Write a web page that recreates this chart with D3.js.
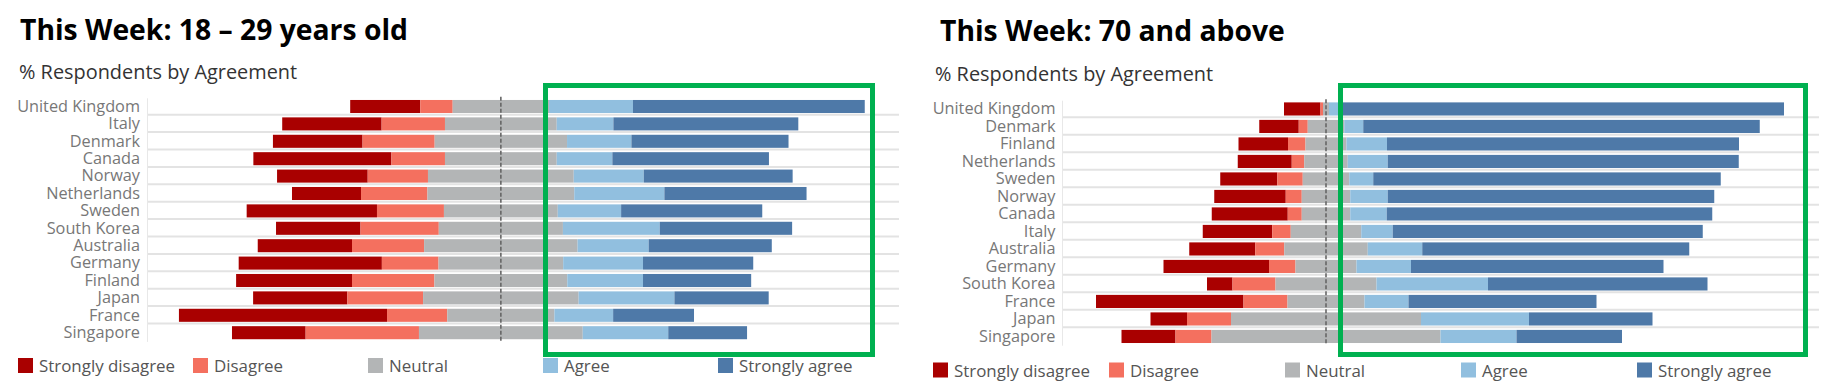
<!DOCTYPE html>
<html>
<head>
<meta charset="utf-8">
<script src="https://cdn.jsdelivr.net/npm/d3@7"></script>
<style>
    body { margin: 0; background: #fff; }
</style>
</head>
<body>
<div id="chart"></div>
<script>
var categories = ["Strongly disagree", "Disagree", "Neutral", "Agree", "Strongly agree"];
var colors = ["#a90000", "#f4705f", "#b3b5b6", "#91bfdf", "#4e79a8"];

// 18 - 29 years old (% of respondents)
var youngCountries = ["United Kingdom", "Italy", "Denmark", "Canada", "Norway", "Netherlands", "Sweden",
    "South Korea", "Australia", "Germany", "Finland", "Japan", "France", "Singapore"];
var youngStronglyDisagree = [13.6, 19.3, 17.4, 26.8, 17.6, 13.4, 25.3, 16.4, 18.3, 27.8, 22.5, 18.3, 40.4, 14.3];
var youngDisagree = [6.3, 12.3, 14.0, 10.4, 11.7, 12.9, 13.0, 15.2, 14.0, 11.0, 16.0, 14.7, 11.7, 22.0];
var youngNeutral = [18.7, 21.7, 25.7, 21.7, 28.3, 28.5, 22.1, 24.1, 29.8, 24.2, 25.8, 30.2, 20.8, 31.8];
var youngAgree = [16.3, 11.0, 12.5, 10.8, 13.6, 17.5, 12.3, 18.8, 13.8, 15.5, 14.7, 18.6, 11.4, 16.6];
var youngStronglyAgree = [45.0, 35.9, 30.5, 30.4, 28.9, 27.6, 27.4, 25.7, 23.9, 21.4, 21.0, 18.3, 15.7, 15.3];

// 70 and above (% of respondents)
var oldCountries = ["United Kingdom", "Denmark", "Finland", "Netherlands", "Sweden", "Norway", "Canada",
    "Italy", "Australia", "Germany", "South Korea", "France", "Japan", "Singapore"];
var oldStronglyDisagree = [7.3, 7.9, 9.9, 10.8, 11.4, 14.3, 15.2, 13.9, 13.2, 21.1, 5.1, 29.5, 7.3, 10.8];
var oldDisagree = [0.5, 1.8, 3.5, 2.5, 5.1, 3.2, 2.8, 3.7, 5.8, 5.3, 8.6, 8.8, 8.8, 7.2];
var oldNeutral = [1.2, 7.3, 8.2, 8.7, 9.3, 9.7, 9.7, 14.1, 16.7, 12.2, 20.2, 15.4, 38.0, 45.8];
var oldAgree = [2.3, 3.8, 8.1, 8.0, 4.8, 7.5, 7.3, 6.3, 10.9, 10.9, 22.3, 8.8, 21.6, 15.2];
var oldStronglyAgree = [88.7, 79.3, 70.4, 70.2, 69.5, 65.3, 65.1, 62.0, 53.4, 50.5, 43.9, 37.6, 24.7, 21.1];

var width = 1824,
    height = 390,
    boxColor = "#00b050",
    gridColor = "#e3e3e3";

var svg = d3.select("#chart")
    .append("svg")
    .attr("width", width)
    .attr("height", height)
    .style("font-family", "'Open Sans', sans-serif");

function drawPanel(p) {
    svg.append("text")
        .attr("x", p.titleX)
        .attr("y", p.titleY)
        .text(p.title)
        .style("font-weight", "bold")
        .style("font-size", "28.3px")
        .style("fill", "#000");

    svg.append("text")
        .attr("x", p.subX)
        .attr("y", p.subY)
        .text("% Respondents by Agreement")
        .style("font-size", "19.9px")
        .style("fill", "#333");

    var y = d3.scaleBand()
        .domain(p.countries)
        .range([p.top, p.top + p.countries.length * p.step])
        .paddingInner(0.25)
        .paddingOuter(0.125);

    var x = d3.scaleLinear()
        .domain(p.domain)
        .range([p.left, p.right]);

    // row separators
    svg.append("g")
        .selectAll("line")
        .data(p.countries.slice(0, -1))
        .join("line")
        .attr("x1", p.left)
        .attr("x2", p.gridEnd)
        .attr("y1", d => y(d) + y.bandwidth() + (y.step() - y.bandwidth()) / 2 - 0.5)
        .attr("y2", d => y(d) + y.bandwidth() + (y.step() - y.bandwidth()) / 2 - 0.5)
        .style("stroke", gridColor)
        .style("stroke-width", "2px");

    // diverging stacks, neutral centred on zero
    var segs = [];
    p.countries.forEach(function (c, i) {
        var vals = p.series.map(s => s[i]);
        var acc = -(vals[0] + vals[1] + vals[2] / 2);
        vals.forEach(function (v, k) {
            segs.push({ country: c, cat: k, x0: acc, x1: acc + v });
            acc += v;
        });
    });

    svg.append("g")
        .selectAll("rect")
        .data(segs)
        .join("rect")
        .attr("x", d => x(d.x0))
        .attr("y", d => y(d.country))
        .attr("width", d => x(d.x1) - x(d.x0))
        .attr("height", y.bandwidth())
        .style("fill", d => colors[d.cat]);

    svg.append("line")
        .attr("x1", x(0))
        .attr("x2", x(0))
        .attr("y1", p.top - 1)
        .attr("y2", p.top + p.countries.length * p.step)
        .style("stroke", "#666")
        .style("stroke-width", "1.6px")
        .style("stroke-dasharray", "4,2");

    var axis = d3.axisLeft(y)
        .tickSize(0)
        .tickPadding(p.labelPad);

    var gAxis = svg.append("g")
        .attr("transform", "translate(" + p.left + ",0)")
        .call(axis);

    gAxis.select(".domain")
        .style("stroke", "#e8e8e8")
        .style("stroke-width", "1px");

    gAxis.selectAll(".tick text")
        .style("font-family", "'Open Sans', sans-serif")
        .style("font-size", "16.3px")
        .style("fill", "#777");

    svg.append("rect")
        .attr("x", p.box[0])
        .attr("y", p.box[1])
        .attr("width", p.box[2] - p.box[0])
        .attr("height", p.box[3] - p.box[1])
        .style("fill", "none")
        .style("stroke", boxColor)
        .style("stroke-width", "5px");

    var legend = svg.append("g")
        .selectAll("g")
        .data(categories)
        .join("g")
        .attr("transform", (d, i) => "translate(" + (p.legendX + i * p.legendGap) + "," + p.legendY + ")");

    legend.append("rect")
        .attr("width", 15)
        .attr("height", 15)
        .style("fill", (d, i) => colors[i]);

    legend.append("text")
        .attr("x", 21)
        .attr("y", 14)
        .text(d => d)
        .style("font-size", "16.9px")
        .style("fill", "#555");
}

drawPanel({
    title: "This Week: 18 \u2013 29 years old",
    titleX: 20, titleY: 40,
    subX: 19, subY: 79,
    countries: youngCountries,
    series: [youngStronglyDisagree, youngDisagree, youngNeutral, youngAgree, youngStronglyAgree],
    top: 97.8, step: 17.4,
    left: 147, right: 899, gridEnd: 899,
    domain: [-68.7, 77.3],
    labelPad: 7,
    box: [545.5, 85.5, 872.5, 354.5],
    legendX: 18, legendY: 358, legendGap: 175
});

drawPanel({
    title: "This Week: 70 and above",
    titleX: 940, titleY: 40.5,
    subX: 935, subY: 81,
    countries: oldCountries,
    series: [oldStronglyDisagree, oldDisagree, oldNeutral, oldAgree, oldStronglyAgree],
    top: 100.2, step: 17.5,
    left: 1062, right: 1819, gridEnd: 1819,
    domain: [-52.8, 98.6],
    labelPad: 6.5,
    box: [1340.5, 85.5, 1805.5, 354.5],
    legendX: 933, legendY: 362.5, legendGap: 176
});
</script>
</body>
</html>
